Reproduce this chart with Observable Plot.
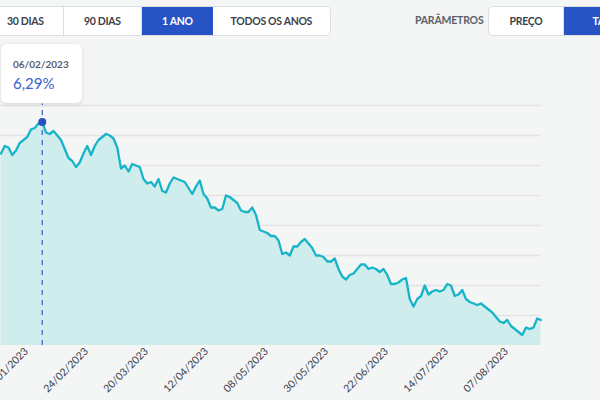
<!DOCTYPE html>
<html>
<head>
<meta charset="utf-8">
<script src="https://cdn.jsdelivr.net/npm/d3@7"></script>
<script src="https://cdn.jsdelivr.net/npm/@observablehq/plot@0.6"></script>
<style>
  html, body { margin: 0; padding: 0; background: #f4f5f5; overflow: hidden; }
  #root { position: relative; width: 600px; height: 400px; font-family: Lato, "Open Sans", sans-serif; }
  .grp { position: absolute; top: 6px; height: 30px; box-sizing: border-box; border: 1px solid #dcdfe2; border-radius: 5px; background: #fff; overflow: hidden; display: flex; }
  .seg { height: 100%; display: flex; align-items: center; justify-content: center; font-size: 10.5px; font-weight: 700; color: #3b3f4a; letter-spacing: -0.3px; box-sizing: border-box; border-right: 1px solid #dcdfe2; }
  .seg.on { background: #2853c4; color: #fff; border-right: none; }
  .lbl { position: absolute; top: 14px; font-size: 10.5px; font-weight: 700; color: #5b5f68; letter-spacing: -0.2px; }
  #chart { position: absolute; left: 0; top: 40px; }
  #tip { position: absolute; left: 1px; top: 44px; width: 81px; height: 59px; background: #fff; border-radius: 6px; box-shadow: 0 1px 4px rgba(0,0,0,0.12); box-sizing: border-box; padding-left: 12px; }
  #tip .d { position: absolute; left: 12px; top: 14px; font-size: 10px; font-weight: 700; color: #5a5e70; }
  #tip .v { position: absolute; left: 12px; top: 30px; font-size: 15px; color: #3a62c8; }
</style>
</head>
<body>
<div id="root">
  <div class="grp" style="left:-13px; width:344px;">
    <div class="seg" style="width:76px;">30 DIAS</div>
    <div class="seg" style="width:79px;">90 DIAS</div>
    <div class="seg on" style="width:71px;">1 ANO</div>
    <div class="seg" style="width:118px; border-right:none;">TODOS OS ANOS</div>
  </div>
  <div class="lbl" style="left:415px;">PARÂMETROS</div>
  <div class="grp" style="left:488px; width:160px;">
    <div class="seg" style="width:76px;">PREÇO</div>
    <div class="seg on" style="width:84px;">TAXA</div>
  </div>
  <div id="chart"></div>
  <div id="tip"><div class="d">06/02/2023</div><div class="v">6,29%</div></div>
</div>
<script>
// Taxa (% a.a.) per trading day, visible window (index = trading-day number)
const rates = [
  6.08, 6.13, 6.12, 6.07, 6.10, 6.15, 6.17, 6.19, 6.24, 6.25,
  6.28, 6.29, 6.22, 6.21, 6.23, 6.20, 6.17, 6.11, 6.05, 6.03,
  5.99, 6.02, 6.08, 6.13, 6.07, 6.13, 6.17, 6.19, 6.21, 6.20,
  6.18, 6.12, 5.98, 6.00, 5.96, 6.01, 6.00, 5.99, 5.91, 5.88,
  5.89, 5.86, 5.91, 5.83, 5.82, 5.88, 5.92, 5.91, 5.90, 5.89,
  5.85, 5.81, 5.86, 5.90, 5.81, 5.78, 5.72, 5.72, 5.70, 5.71,
  5.80, 5.79, 5.77, 5.75, 5.70, 5.69, 5.69, 5.72, 5.67, 5.57,
  5.56, 5.55, 5.53, 5.53, 5.50, 5.41, 5.42, 5.40, 5.46, 5.46,
  5.49, 5.51, 5.48, 5.45, 5.40, 5.40, 5.39, 5.36, 5.36, 5.38,
  5.31, 5.26, 5.24, 5.27, 5.28, 5.31, 5.34, 5.34, 5.31, 5.32,
  5.31, 5.29, 5.31, 5.27, 5.21, 5.21, 5.22, 5.24, 5.25, 5.11,
  5.06, 5.11, 5.13, 5.20, 5.14, 5.16, 5.17, 5.16, 5.17, 5.21,
  5.20, 5.13, 5.14, 5.17, 5.11, 5.09, 5.08, 5.07, 5.08, 5.06,
  5.04, 5.02, 4.99, 4.96, 4.95, 4.97, 4.93, 4.91, 4.89, 4.87,
  4.92, 4.91, 4.92, 4.98, 4.97
];
const tickIndex = [6, 22, 38, 54, 70, 86, 102, 118, 134];
const tickLabels = ["30/01/2023", "24/02/2023", "20/03/2023", "12/04/2023", "08/05/2023",
                    "30/05/2023", "22/06/2023", "14/07/2023", "07/08/2023"];
const gridValues = [5.0, 5.2, 5.4, 5.6, 5.8, 6.0, 6.2, 6.4];
const highlightIndex = 11; // 06/02/2023
const yMin = 4.8, yMax = 6.4;

const data = rates.map((v, i) => ({i, v}));
const labelOf = new Map(tickIndex.map((t, k) => [t, tickLabels[k]]));

const chart = Plot.plot({
  width: 600,
  height: 360,
  marginLeft: 0.5,
  marginRight: 59.5,
  marginTop: 65,
  marginBottom: 55,
  style: {background: "transparent", fontFamily: "Lato, 'Open Sans', sans-serif", fontSize: "10.5px", color: "#3b3f4a"},
  x: {type: "linear", domain: [0, rates.length - 1], label: null},
  y: {domain: [yMin, yMax], label: null},
  marks: [
    Plot.gridY(gridValues, {stroke: "#e2e4e5", strokeOpacity: 1, strokeWidth: 1.5}),
    Plot.areaY(data, {x: "i", y1: () => yMin, y2: "v", fill: "#cfeded"}),
    Plot.lineY(data, {x: "i", y: "v", stroke: "#17b4c9", strokeWidth: 2.3, strokeLinejoin: "round"}),
    Plot.ruleX([highlightIndex], {y1: yMin, y2: yMax + 0.01, stroke: "#4466c8", strokeWidth: 1.3, strokeDasharray: "5,5"}),
    Plot.dot(data.filter(d => d.i === highlightIndex), {x: "i", y: "v", r: 4, fill: "#2a4fbf", stroke: "none"}),
    Plot.axisX(tickIndex, {tickFormat: t => labelOf.get(t), tickRotate: -45, tickSize: 0, tickPadding: 4, dx: 3, fill: "#3b3f4a", label: null}),
    Plot.axisY({ticks: [], label: null, tickSize: 0})
  ]
});
document.getElementById("chart").appendChild(chart);
</script>
</body>
</html>
